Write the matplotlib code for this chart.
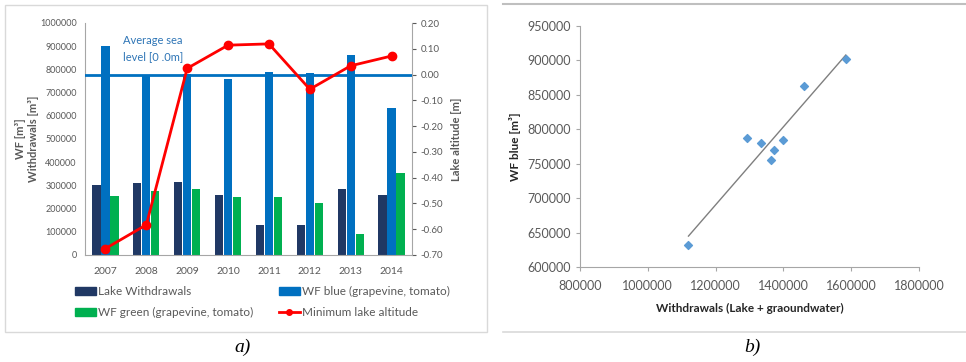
import numpy as np
import matplotlib
matplotlib.use("Agg")
import matplotlib.pyplot as plt
from matplotlib.lines import Line2D
from matplotlib.patches import Rectangle, Patch

plt.rcParams['font.family'] = ['Lato', 'DejaVu Sans']

# ---- data, panel a)
years = ['2007', '2008', '2009', '2010', '2011', '2012', '2013', '2014']
lake_withdrawals = [301000, 309000, 316000, 257000, 128000, 131000, 286000, 258000]
wf_blue = [903000, 777000, 780000, 757000, 788000, 786000, 864000, 634000]
wf_green = [255000, 277000, 283000, 249000, 249000, 223000, 89000, 355000]
min_altitude = [-0.675, -0.583, 0.024, 0.114, 0.119, -0.057, 0.034, 0.072]
sea_level = 0.0
left_ticks = list(range(0, 1000001, 100000))
right_ticks = [0.20, 0.10, 0.00, -0.10, -0.20, -0.30, -0.40, -0.50, -0.60, -0.70]

# ---- data, panel b)
withdrawals_total = [1584000, 1462000, 1294000, 1334000, 1400000, 1371000, 1364000, 1120000]
wf_blue_scatter = [902000, 863000, 787000, 780000, 785000, 770000, 756000, 632000]
xticks_b = list(range(800000, 1800001, 200000))
yticks_b = list(range(600000, 950001, 50000))

navy = '#203864'
blue = '#0070C0'
green = '#00B050'
red = '#FF0000'
axis_grey = '#A6A6A6'
text_grey = '#595959'

fig = plt.figure(figsize=(9.66, 3.62), dpi=100)
W, H = 966, 362

def fx(px):
    return px / W

def fy(py):
    return 1 - py / H

# frames around the two panels
fig.patches.append(Rectangle((fx(5), fy(332)), fx(482), fy(5) - fy(332), transform=fig.transFigure,
                             fill=False, edgecolor='#D9D9D9', lw=1.0))
fig.add_artist(Line2D([fx(503), 1], [fy(4), fy(4)], color='#BFBFBF', lw=1.5))
fig.add_artist(Line2D([fx(503), 1], [fy(332), fy(332)], color='#D9D9D9', lw=1.2))

# ---------------- panel a)
ax = fig.add_axes([fx(85), fy(255), fx(327), fy(23) - fy(255)])
x = np.arange(len(years))
bw = 0.2
ax.bar(x - 0.22, lake_withdrawals, bw, color=navy, zorder=2)
ax.bar(x, wf_blue, bw, color=blue, zorder=2)
ax.bar(x + 0.22, wf_green, bw, color=green, zorder=2)
ax.set_xlim(-0.5, len(years) - 0.5)
ax.set_ylim(0, 1000000)
ax.set_yticks(left_ticks)
ax.set_yticklabels([str(v) for v in left_ticks])
ax.set_xticks(x)
ax.set_xticklabels(years)
ax.tick_params(axis='y', length=0, labelsize=6.5, colors=text_grey, pad=6)
ax.tick_params(axis='x', length=0, labelsize=7.5, colors=text_grey, pad=9)
for s in ['top', 'right']:
    ax.spines[s].set_visible(False)
for s in ['left', 'bottom']:
    ax.spines[s].set_color(axis_grey)
ax.set_ylabel('WF [m³]\nWithdrawals [m³]', fontsize=8, fontweight='bold', color=text_grey, labelpad=1,
              linespacing=1.2)

ax2 = ax.twinx()
ax2.set_ylim(-0.70, 0.20)
ax2.set_yticks(right_ticks)
ax2.set_yticklabels([f'{v:.2f}' for v in right_ticks])
ax2.tick_params(axis='y', length=3, labelsize=7, colors=text_grey, pad=3)
for s in ['top', 'left', 'bottom']:
    ax2.spines[s].set_visible(False)
ax2.spines['right'].set_color(axis_grey)
ax2.axhline(sea_level, color=blue, lw=2, zorder=3)
ax2.plot(x, min_altitude, color=red, lw=2, marker='o', markersize=6, zorder=4)
ax2.set_ylabel('Lake altitude [m]', fontsize=8, fontweight='bold', color=text_grey, labelpad=6)
ax2.text(0.115, 0.95, 'Average sea\nlevel [0 .0m]', transform=ax.transAxes, color='#2E75B6',
         fontsize=8, va='top', ha='left', linespacing=1.6)

handles = [Patch(color=navy), Patch(color=blue), Patch(color=green),
           Line2D([], [], color=red, lw=2, marker='o', markersize=4)]
labels = ['Lake Withdrawals', 'WF blue (grapevine, tomato)',
          'WF green (grapevine, tomato)', 'Minimum lake altitude']
fig.legend([handles[0], handles[2], handles[1], handles[3]],
           [labels[0], labels[2], labels[1], labels[3]],
           loc='center left', bbox_to_anchor=(fx(64), fy(302)), ncol=2, frameon=False,
           fontsize=8.5, labelcolor=text_grey, columnspacing=2.2, handlelength=1.8,
           handletextpad=0.15, handleheight=0.7, labelspacing=0.85)

fig.text(fx(243), fy(347), 'a)', fontsize=14, style='italic', family='Liberation Serif',
         ha='center', va='center')

# ---------------- panel b)
bx = fig.add_axes([fx(580), fy(267), fx(339), fy(26) - fy(267)])
bx.scatter(withdrawals_total, wf_blue_scatter, marker='D', s=16, color='#5B9BD5', zorder=3)
coef = np.polyfit(withdrawals_total, wf_blue_scatter, 1)
xs = np.array([min(withdrawals_total), max(withdrawals_total)])
bx.plot(xs, np.polyval(coef, xs), color='#7F7F7F', lw=1, zorder=2)
bx.set_xlim(800000, 1800000)
bx.set_ylim(600000, 950000)
bx.set_xticks(xticks_b)
bx.set_yticks(yticks_b)
bx.set_xticklabels([str(v) for v in xticks_b])
bx.set_yticklabels([str(v) for v in yticks_b])
bx.tick_params(axis='both', length=3, labelsize=9, colors=text_grey, color=axis_grey)
bx.tick_params(axis='x', pad=6)
for s in ['top', 'right']:
    bx.spines[s].set_visible(False)
for s in ['left', 'bottom']:
    bx.spines[s].set_color(axis_grey)
bx.set_xlabel('Withdrawals (Lake + graoundwater)', fontsize=8.5, fontweight='bold', color='#262626',
              labelpad=8)
bx.set_ylabel('WF blue [m³]', fontsize=8.5, fontweight='bold', color='#262626', labelpad=5)

fig.text(fx(752), fy(347), 'b)', fontsize=14, style='italic', family='Liberation Serif',
         ha='center', va='center')

fig.savefig('out.png', dpi=100)
